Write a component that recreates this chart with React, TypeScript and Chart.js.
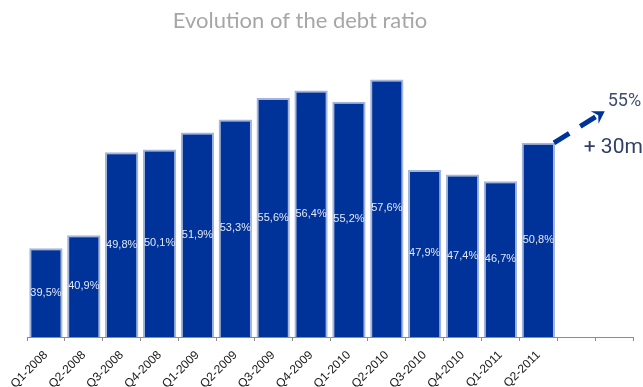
import React, { useEffect, useRef } from 'react';
import { Chart, registerables } from 'chart.js';

Chart.register(...registerables);

const categories = [
  'Q1-2008', 'Q2-2008', 'Q3-2008', 'Q4-2008',
  'Q1-2009', 'Q2-2009', 'Q3-2009', 'Q4-2009',
  'Q1-2010', 'Q2-2010', 'Q3-2010', 'Q4-2010',
  'Q1-2011', 'Q2-2011', '', '',
];
const debtRatio: (number | null)[] = [
  39.5, 40.9, 49.8, 50.1,
  51.9, 53.3, 55.6, 56.4,
  55.2, 57.6, 47.9, 47.4,
  46.7, 50.8, null, null,
];
const valueLabels = debtRatio.map((v) => (v == null ? '' : v.toFixed(1).replace('.', ',') + '%'));
const titleText = 'Evolution of the debt ratio';
const targetLabel = '55%';
const targetExtra = '+ 30m';
const arrowTargetValue = 54.2;
const yMin = 30;
const yMax = 60;

const annotations = {
  id: 'annotations',
  afterDatasetsDraw(chart: any) {
    const ctx = chart.ctx as CanvasRenderingContext2D;
    const meta = chart.getDatasetMeta(0);
    const yScale = chart.scales.y;
    const bottom = chart.chartArea.bottom;
    ctx.save();

    // value labels inside bars
    ctx.font = '11px "Liberation Sans", Arial, sans-serif';
    ctx.fillStyle = '#e2e7f3';
    ctx.textAlign = 'center';
    ctx.textBaseline = 'middle';
    meta.data.forEach((bar: any, i: number) => {
      if (debtRatio[i] == null) return;
      const p = bar.getProps(['x', 'y'], true);
      ctx.fillText(valueLabels[i], p.x, (p.y + bottom) / 2);
    });

    // title
    ctx.font = '22px Lato, sans-serif';
    ctx.fillStyle = '#a6a6a6';
    ctx.textAlign = 'center';
    ctx.textBaseline = 'middle';
    ctx.fillText(titleText, 300, 21);

    // arrow from last bar
    let lastIdx = 0;
    debtRatio.forEach((v, i) => { if (v != null) lastIdx = i; });
    const lb = meta.data[lastIdx].getProps(['x', 'y', 'width'], true);
    const sx = lb.x + lb.width / 2 - 1;
    const sy = lb.y;
    const ty = yScale.getPixelForValue(arrowTargetValue);
    const tx = sx + (sy - ty) * 1.6;
    const ang = Math.atan2(ty - sy, tx - sx);
    ctx.strokeStyle = '#003399';
    ctx.lineWidth = 5;
    ctx.lineCap = 'butt';
    ctx.setLineDash([18, 13]);
    ctx.beginPath();
    ctx.moveTo(sx, sy);
    ctx.lineTo(tx - 3 * Math.cos(ang), ty - 3 * Math.sin(ang));
    ctx.stroke();
    ctx.setLineDash([]);
    // arrow head
    const hl = 14;
    const spread = 0.55;
    ctx.fillStyle = '#003399';
    ctx.beginPath();
    ctx.moveTo(tx, ty);
    ctx.lineTo(tx - hl * Math.cos(ang - spread), ty - hl * Math.sin(ang - spread));
    ctx.lineTo(tx - hl * 0.55 * Math.cos(ang), ty - hl * 0.55 * Math.sin(ang));
    ctx.lineTo(tx - hl * Math.cos(ang + spread), ty - hl * Math.sin(ang + spread));
    ctx.closePath();
    ctx.fill();

    // target texts
    ctx.textAlign = 'left';
    ctx.textBaseline = 'middle';
    ctx.fillStyle = '#3f4c6d';
    ctx.font = '18px Roboto, sans-serif';
    ctx.fillText(targetLabel, tx + 3, yScale.getPixelForValue(55) - 2);
    ctx.fillStyle = '#2f3f68';
    ctx.font = '21px Roboto, sans-serif';
    ctx.fillText(targetExtra, tx - 21, sy + 5);

    ctx.restore();
  },
};

export default function App() {
  const canvasRef = useRef<HTMLCanvasElement | null>(null);

  useEffect(() => {
    document.body.style.margin = '0';
    const canvas = canvasRef.current;
    if (!canvas) return;
    const chart = new Chart(canvas, {
      type: 'bar',
      data: {
        labels: categories,
        datasets: [
          {
            data: debtRatio,
            backgroundColor: '#003399',
            borderColor: '#a3b5de',
            borderWidth: 2,
            categoryPercentage: 1,
            barPercentage: 0.88,
          },
        ],
      },
      options: {
        responsive: false,
        animation: false,
        layout: { padding: { top: 57, left: 27, right: 10, bottom: 0 } },
        plugins: {
          legend: { display: false },
          title: { display: false },
          tooltip: { enabled: false },
        },
        scales: {
          y: { display: false, min: yMin, max: yMax },
          x: {
            afterFit: (scale: any) => { scale.height = 50; },
            grid: {
              display: true,
              drawOnChartArea: false,
              drawTicks: true,
              tickLength: 4,
              color: '#8c8c8c',
              offset: true,
            },
            border: { display: true, color: '#8c8c8c', width: 1 },
            ticks: {
              autoSkip: false,
              maxRotation: 45,
              minRotation: 45,
              padding: 7,
              color: '#1a1a1a',
              font: { family: '"Liberation Sans", Arial, sans-serif', size: 12 },
            },
          },
        },
      },
      plugins: [annotations],
    });
    return () => chart.destroy();
  }, []);

  return (
    <div style={{ position: 'fixed', left: 0, top: 0, width: 643, height: 387 }}>
      <canvas ref={canvasRef} width={643} height={387} />
    </div>
  );
}
